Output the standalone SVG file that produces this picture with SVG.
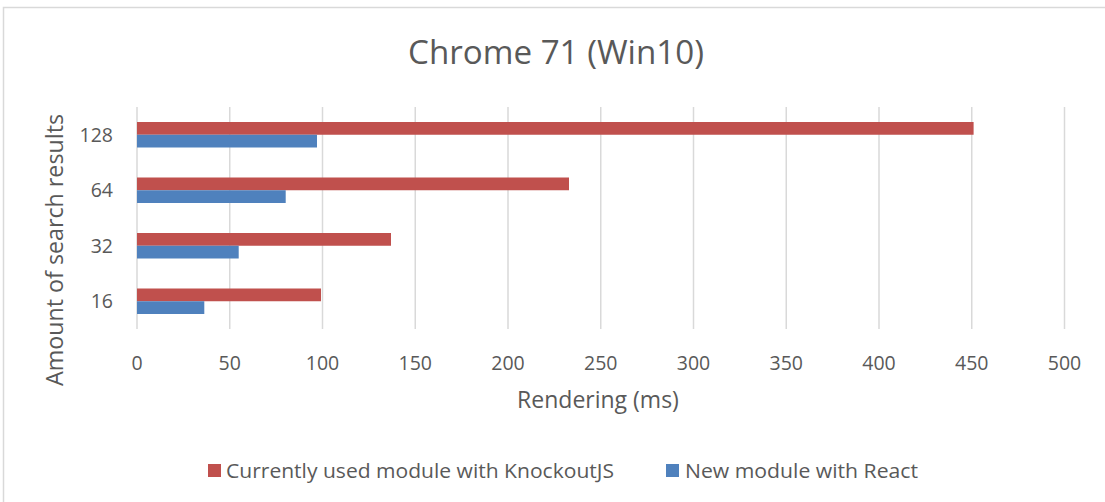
<svg xmlns="http://www.w3.org/2000/svg" width="1105" height="502" viewBox="0 0 1105 502">
<style>
text{font-family:"Open Sans","Liberation Sans",sans-serif;fill:#595959}
.grid{stroke:#D9D9D9;stroke-width:1.5}
.tick{font-size:19.5px;text-anchor:middle}
.ytick{font-size:19.5px;text-anchor:end}
.red{fill:#C0504D}
.blue{fill:#4F81BD}
</style>
<rect x="0" y="0" width="1105" height="502" fill="#ffffff"/>
<rect x="3.5" y="7.5" width="1120" height="520" fill="none" stroke="#D9D9D9" stroke-width="1.5"/>
<text id="title" x="556" y="64" font-size="33" text-anchor="middle" textLength="296" lengthAdjust="spacingAndGlyphs">Chrome 71 (Win10)</text>
<g id="gridlines">
<line class="grid" x1="137" y1="107" x2="137" y2="329"/>
<line class="grid" x1="229.75" y1="107" x2="229.75" y2="329"/>
<line class="grid" x1="322.5" y1="107" x2="322.5" y2="329"/>
<line class="grid" x1="415.25" y1="107" x2="415.25" y2="329"/>
<line class="grid" x1="508" y1="107" x2="508" y2="329"/>
<line class="grid" x1="600.75" y1="107" x2="600.75" y2="329"/>
<line class="grid" x1="693.5" y1="107" x2="693.5" y2="329"/>
<line class="grid" x1="786.25" y1="107" x2="786.25" y2="329"/>
<line class="grid" x1="879" y1="107" x2="879" y2="329"/>
<line class="grid" x1="971.75" y1="107" x2="971.75" y2="329"/>
<line class="grid" x1="1064.5" y1="107" x2="1064.5" y2="329"/>
</g>
<g id="bars">
<rect class="red" x="137" y="122" width="836.6" height="12.75"/>
<rect class="blue" x="137" y="134.75" width="180" height="12.75"/>
<rect class="red" x="137" y="177.5" width="432" height="12.75"/>
<rect class="blue" x="137" y="190.25" width="148.7" height="12.75"/>
<rect class="red" x="137" y="233" width="254" height="12.75"/>
<rect class="blue" x="137" y="245.75" width="101.7" height="12.75"/>
<rect class="red" x="137" y="288.5" width="184" height="12.75"/>
<rect class="blue" x="137" y="301.25" width="67.3" height="12.75"/>
</g>
<g id="y-ticks">
<text class="ytick" x="113" y="141.7">128</text>
<text class="ytick" x="113" y="197.2">64</text>
<text class="ytick" x="113" y="252.7">32</text>
<text class="ytick" x="113" y="308.2">16</text>
</g>
<g id="x-ticks">
<text class="tick" x="137" y="370">0</text>
<text class="tick" x="229.75" y="370">50</text>
<text class="tick" x="322.5" y="370">100</text>
<text class="tick" x="415.25" y="370">150</text>
<text class="tick" x="508" y="370">200</text>
<text class="tick" x="600.75" y="370">250</text>
<text class="tick" x="693.5" y="370">300</text>
<text class="tick" x="786.25" y="370">350</text>
<text class="tick" x="879" y="370">400</text>
<text class="tick" x="971.75" y="370">450</text>
<text class="tick" x="1064.5" y="370">500</text>
</g>
<text id="x-title" x="598" y="408" font-size="23" text-anchor="middle">Rendering (ms)</text>
<text id="y-title" transform="translate(63,250) rotate(-90)" font-size="23" text-anchor="middle" textLength="272" lengthAdjust="spacingAndGlyphs">Amount of search results</text>
<g id="legend">
<rect class="red" x="208" y="464" width="13" height="13"/>
<text x="226" y="477.5" font-size="19.5" textLength="388" lengthAdjust="spacingAndGlyphs">Currently used module with KnockoutJS</text>
<rect class="blue" x="666" y="464" width="13" height="13"/>
<text x="685" y="477.5" font-size="19.5" textLength="233" lengthAdjust="spacingAndGlyphs">New module with React</text>
</g>
</svg>
